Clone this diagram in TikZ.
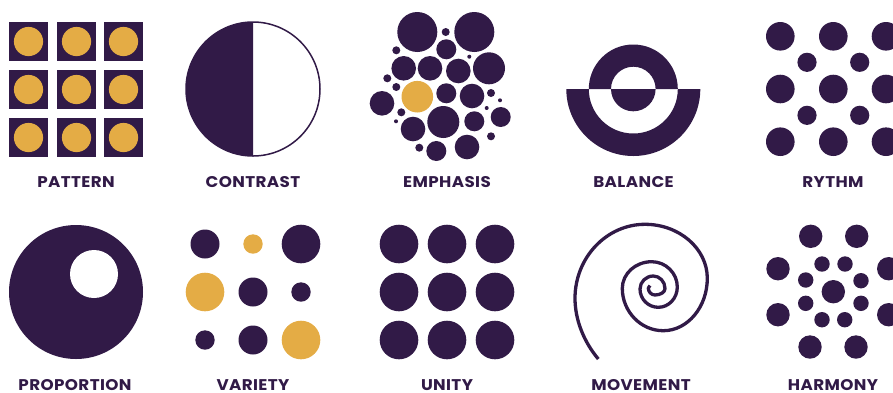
\documentclass[tikz,border=0pt]{standalone}
\usepackage{fontspec}
\setmainfont{Poppins}
\newfontfamily\labfont[FakeStretch=1.08,LetterSpace=2.5]{Poppins}
\definecolor{plum}{HTML}{311A47}
\definecolor{gold}{HTML}{E4AC45}
\tikzset{
  lab/.style={font=\labfont\fontsize{15.5}{17}\selectfont\bfseries, text=plum, anchor=base, inner sep=0pt, text depth=0pt},
  spiralline/.style={draw=plum, line width=3.3pt, line join=round},
}
\newcommand{\pd}[3]{\fill[plum] (#1,#2) circle[radius=#3pt];}
\newcommand{\gd}[3]{\fill[gold] (#1,#2) circle[radius=#3pt];}
\begin{document}
\begin{tikzpicture}[x=1pt,y=-1pt]
\useasboundingbox (0,0) rectangle (893,392);
% Pattern
\foreach \x in {9,57,104}{\foreach \y in {22,70,118}{
  \fill[plum] (\x,\y) rectangle ++(39,39);
  \gd{\x+19.5}{\y+19.5}{14.6}
}}
% Contrast
\fill[plum] (253,22) arc[start angle=90,end angle=270,radius=67pt] -- cycle;
\draw[plum,line width=1.5pt] (253,89) circle[radius=67pt];
% Emphasis
\foreach \x/\y/\r in {417.3/32/20,474.3/32/20,445.7/32/4,446.3/49.3/10,396.3/50.3/4,469.3/56.7/2,
 403.7/68.3/12.3,430/68.3/12.3,458.3/71/12.3,489/68.3/16,387.3/78.3/4,396.3/87/4,
 446.3/93.3/10,472/96/12.3,491/93/4,500/100.3/2,486.7/108/2,382/103.3/12.3,401.3/112.3/4,396/121.3/2,
 500.7/117/10,443.3/122/16,474.3/121.3/10,413/129/12.3,491/136.3/4,419.3/147.7/4,436.3/151/10,467/147/12.3}
 {\pd{\x}{\y}{\r}}
\gd{417.3}{96.7}{15.8}
% Balance
\fill[plum] (566.3,89) arc[start angle=180,end angle=360,radius=67pt] -- (677.8,89) arc[start angle=360,end angle=180,radius=44.5pt] -- cycle;
\fill[plum] (588.8,89) arc[start angle=180,end angle=0,radius=44.5pt] -- (655.6,89) arc[start angle=0,end angle=180,radius=22.3pt] -- cycle;
\fill[plum] (611,89) arc[start angle=180,end angle=360,radius=22.3pt] -- cycle;
% Rythm
\foreach \x in {780.3,833.3,886}{\foreach \y in {36.3,89,141.7}{\pd{\x}{\y}{14.3}}}
\foreach \x in {807,859.7}{\foreach \y in {62.3,115.3}{\pd{\x}{\y}{9.6}}}
% Proportion
\pd{76}{292}{67}
\fill[white] (94,274) circle[radius=24pt];
% Variety
\foreach \x/\y/\r in {205/244/14.5,301/244/19.3,253/292/14.5,301/292/9.7,205/340/9.7,253/340/14.5}{\pd{\x}{\y}{\r}}
\foreach \x/\y/\r in {253/244/9.7,205/292/19.3,301/340/19.3}{\gd{\x}{\y}{\r}}
% Unity
\foreach \x in {399,447,495}{\foreach \y in {244,292,340}{\pd{\x}{\y}{19.3}}}
% Movement
\draw[spiralline] (598.3,359)
 .. controls (584,342) and (575,320) .. (575,298.3)
 .. controls (575,257.6) and (606.5,224.3) .. (645,224.3)
 .. controls (679.3,224.3) and (707.3,248.6) .. (707.3,278.3)
 .. controls (707.3,307.1) and (687.5,330.7) .. (663.3,330.7)
 .. controls (640.8,330.7) and (622.3,311.6) .. (622.3,288.3)
 .. controls (622.3,273.7) and (635.5,261.7) .. (651.7,261.7)
 .. controls (665.8,261.7) and (677.3,273.1) .. (677.3,287)
 .. controls (677.3,298.2) and (668.8,307.3) .. (658.3,307.3)
 .. controls (648.2,307.3) and (640,299.1) .. (640,289)
 .. controls (640,281.9) and (646,276) .. (653.3,276)
 .. controls (659.7,276) and (665,281.6) .. (665,288.5)
 .. controls (665,292.1) and (660.5,295) .. (655,295)
 .. controls (651.3,295) and (648.3,291.9) .. (648.3,288)
 .. controls (648.3,286.5) and (649,286) .. (650,285.5);
% Harmony
\pd{833.3}{291.7}{11.7}
\foreach \x/\y in {810.7/236.3,856.7/236.3,778/268.7,888.7/268.7,778/314.7,888.7/314.7,810/347,856/347}{\pd{\x}{\y}{11.7}}
\foreach \x/\y in {822/264,845/264,805.7/280,861/280.7,805.7/303.3,861/303.3,822/319.7,844.7/319.7}{\pd{\x}{\y}{7.7}}
% Labels
\node[lab] (l1) at (76,187) {PATTERN};
\node[lab] (l2) at (253,187) {CONTRAST};
\node[lab] (l3) at (447,187) {EMPHASIS};
\node[lab] (l4) at (633.5,187) {BALANCE};
\node[lab] (l5) at (833,187) {RYTHM};
\node[lab] (l6) at (75,390) {PROPORTION};
\node[lab] (l7) at (253,390) {VARIETY};
\node[lab] (l8) at (447,390) {UNITY};
\node[lab] (l9) at (641,390) {MOVEMENT};
\node[lab] (l10) at (833,390) {HARMONY};
\end{tikzpicture}
\end{document}
